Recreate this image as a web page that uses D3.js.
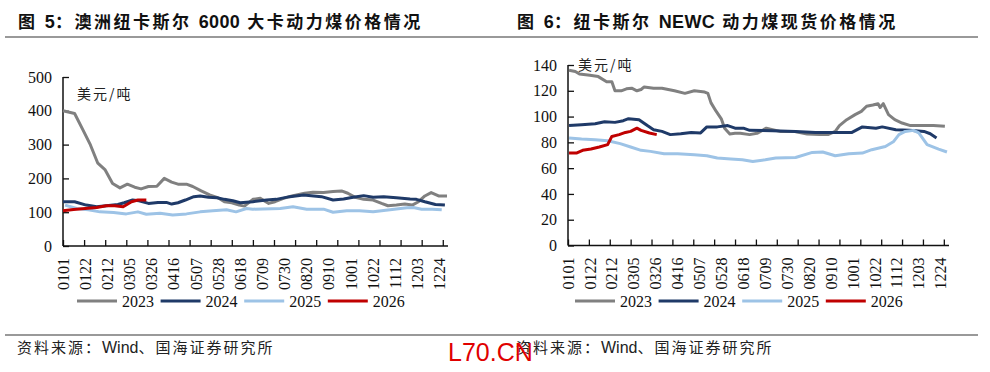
<!DOCTYPE html>
<html>
<head>
<meta charset="utf-8">
<script src="https://cdn.jsdelivr.net/npm/d3@7"></script>
<style>
  body { margin: 0; background: #fff; }
  svg { display: block; }
  .tick-label { font-family: "Liberation Serif", "Times New Roman", serif; font-size: 16px; fill: #111; }
  .title { font-family: "Liberation Sans", "Noto Sans CJK SC", sans-serif; font-size: 17px; font-weight: bold; letter-spacing: 2.5px; fill: #111; }
  .title .latin { font-size: 18px; letter-spacing: 0.3px; }
  .unit { font-family: "Noto Sans CJK SC", sans-serif; font-size: 14px; letter-spacing: 2px; fill: #222; }
  .source { font-family: "Liberation Sans", "Noto Sans CJK SC", sans-serif; font-size: 15px; letter-spacing: 2px; fill: #222; }
  .source .latin { font-size: 16px; letter-spacing: 0; }
</style>
</head>
<body>
<svg id="chart" width="990" height="372"></svg>
<script>
// ---- data ----
const tickLabels = ["0101","0122","0212","0305","0326","0416","0507","0528","0618","0709","0730","0820","0910","1001","1022","1112","1203","1224"];
const years = ["2023", "2024", "2025", "2026"];
const colors = ["#808080", "#1f3a68", "#9dc3e6", "#c00000"];

// fig 5: Newcastle 6000 kcal, weekly (USD/t)
const left2023 = [["0101",400],["0112",392],["0120",343],["0127",299],["0203",245],["0210",225],["0217",185],["0224",172],["0303",183],["0310",174],["0316",169],["0323",176],["0331",177],["0407",200],["0414",189],["0420",183],["0428",183],["0504",176],["0512",163],["0520",151],["0527",144],["0603",131],["0610",128],["0617",121],["0622",118],["0630",138],["0707",141],["0715",126],["0721",131],["0729",141],["0806",148],["0818",156],["0826",159],["0905",158],["0914",161],["0922",163],["0928",156],["1005",144],["1013",138],["1022",136],["1030",126],["1105",119],["1113",121],["1121",124],["1128",121],["1204",131],["1210",148],["1216",158],["1223",148],["1231",148]];
const left2024 = [["0101",131],["0112",131],["0123",121],["0202",116],["0211",119],["0222",123],["0228",128],["0308",136],["0314",134],["0323",126],["0401",129],["0409",129],["0414",124],["0420",128],["0427",136],["0505",146],["0511",148],["0519",144],["0527",143],["0603",138],["0611",134],["0618",128],["0630",131],["0713",136],["0722",138],["0804",146],["0817",151],["0903",146],["0914",136],["0924",139],["1003",144],["1013",149],["1022",144],["1101",146],["1113",143],["1126",139],["1202",138],["1210",131],["1220",123],["1229",121]];
const left2025 = [["0103",121],["0114",111],["0125",107],["0205",101],["0218",99],["0302",95],["0313",101],["0321",94],["0403",97],["0415",92],["0428",95],["0511",101],["0523",104],["0605",107],["0614",101],["0624",111],["0630",109],["0726",111],["0807",116],["0820",109],["0905",109],["0914",100],["0927",104],["1009",104],["1022",101],["1107",107],["1123",113],["1129",114],["1207",109],["1217",109],["1226",107]];
const left2026 = [["0101",104],["0111",108],["0122",111],["0202",114],["0211",119],["0219",119],["0227",116],["0307",131],["0313",136],["0321",136]];

// fig 6: NEWC spot, daily (USD/t)
const right2023 = [["0102",136],["0108",135],["0112",133],["0122",132],["0130",131],["0207",127],["0212",127],["0215",120],["0221",120],["0226",121.5],["0303",122],["0308",120],["0312",121],["0315",123],["0324",122],["0401",122],["0413",120],["0423",118],["0502",120],["0512",119],["0515",118],["0518",110.6],["0523",104],["0528",98],["0531",91],["0605",86.5],["0610",87],["0615",87],["0624",86],["0701",87],["0710",91],["0723",88.5],["0805",88.5],["0818",86.5],["0830",86],["0907",86],["0914",88.5],["0918",93],["0925",97.6],["1003",101.5],["1009",104],["1014",108],["1020",109],["1025",110],["1027",107],["1030",110],["1104",101.5],["1110",97.6],["1117",95],["1125",93],["1207",93],["1217",93],["1228",92.4]];
const right2024 = [["0102",93],["0114",93.7],["0127",94.5],["0205",96],["0215",95.5],["0223",96.8],["0228",98.4],["0310",97.6],["0318",93],["0324",89.8],["0401",88.5],["0409",86],["0419",86.7],["0429",87.7],["0508",87.3],["0514",92],["0524",92],["0603",93],["0610",91],["0618",91],["0624",89.3],["0716",89],["0807",88.5],["0826",87.7],["0911",87.7],["0930",87.7],["1010",92],["1023",91],["1029",92],["1111",89.8],["1124",89.3],["1208",88.5],["1214",86.7],["1220",83.4]];
const right2025 = [["0102",83.4],["0114",82.6],["0127",82],["0208",81.3],["0220",79],["0302",76.4],["0312",73.8],["0321",73],["0403",71.2],["0416",71.2],["0502",70.4],["0514",69.6],["0524",67.8],["0606",67],["0617",66.5],["0627",65.2],["0709",66.5],["0719",67.8],["0807",68.3],["0823",72.2],["0902",72.5],["0914",69.6],["0927",71.2],["1010",71.7],["1019",74.3],["1101",76.8],["1109",80.7],["1114",86],["1120",88.5],["1128",89.3],["1203",87.3],["1211",78.2],["1222",74.8],["1230",72.5]];
const right2026 = [["0102",71.7],["0109",71.7],["0115",73.8],["0123",74.8],["0131",76.4],["0208",78.2],["0212",84.6],["0219",86],["0225",87.7],["0302",88.5],["0308",91],["0312",89.3],["0320",87.3],["0327",86]];

const leftTicksY = [0, 100, 200, 300, 400, 500];
const rightTicksY = [0, 20, 40, 60, 80, 100, 120, 140];

// ---- drawing ----
const svg = d3.select("#chart");
const parse = md => d3.timeParse("%Y%m%d")("2023" + md);

// split text so latin runs get their own spacing
function mixedText(sel, str) {
    str.split(/([A-Za-z0-9]+)/).filter(s => s !== "").forEach(part => {
        sel.append("tspan")
            .attr("class", /^[A-Za-z0-9]+$/.test(part) ? "latin" : null)
            .text(part);
    });
}

function drawPanel(cfg) {
    const g = svg.append("g");

    const x = d3.scaleTime()
        .domain([parse("0101"), parse("1231")])
        .range([cfg.x0, cfg.x1]);
    const y = d3.scaleLinear()
        .domain([0, cfg.yMax])
        .range([cfg.yBottom, cfg.yTop]);

    // y axis, ticks inward
    const yAxis = g.append("g")
        .attr("transform", `translate(${cfg.x0},0)`)
        .call(d3.axisRight(y).tickValues(cfg.yTicks).tickSize(6).tickFormat(""));
    yAxis.select(".domain").remove();
    yAxis.selectAll("line").attr("stroke", "#111").attr("stroke-width", 1.3);

    g.selectAll(".ylab")
        .data(cfg.yTicks)
        .join("text")
        .attr("class", "tick-label")
        .attr("x", cfg.x0 - 11)
        .attr("y", d => y(d))
        .attr("dy", "0.35em")
        .attr("text-anchor", "end")
        .text(d => d);

    // x axis: tick marks every 20 days, labels every 21 days
    const tickDates = d3.range(0, 361, 20).map(d => d3.timeDay.offset(parse("0101"), d));
    const xAxis = g.append("g")
        .attr("transform", `translate(0,${cfg.yBottom})`)
        .call(d3.axisTop(x).tickValues(tickDates).tickSize(6).tickFormat(""));
    xAxis.select(".domain").remove();
    xAxis.selectAll("line").attr("stroke", "#111").attr("stroke-width", 1.3);

    g.selectAll(".xlab")
        .data(tickLabels)
        .join("text")
        .attr("class", "tick-label")
        .attr("text-anchor", "end")
        .attr("dy", "0.35em")
        .attr("transform", d => `translate(${x(parse(d))},${cfg.yBottom + 12}) rotate(-90)`)
        .text(d => d);

    // axis lines
    g.append("line")
        .attr("x1", cfg.x0).attr("x2", cfg.x0)
        .attr("y1", cfg.yTop).attr("y2", cfg.yBottom)
        .attr("stroke", "#111").attr("stroke-width", 1.5);
    g.append("line")
        .attr("x1", cfg.x0).attr("x2", cfg.x1 + 1)
        .attr("y1", cfg.yBottom).attr("y2", cfg.yBottom)
        .attr("stroke", "#111").attr("stroke-width", 1.5);

    // series
    const line = d3.line()
        .x(d => x(parse(d[0])))
        .y(d => y(d[1]));
    cfg.series.forEach((s, i) => {
        g.append("path")
            .datum(s)
            .attr("fill", "none")
            .attr("stroke", colors[i])
            .attr("stroke-width", 3)
            .attr("stroke-linejoin", "round")
            .attr("d", line);
    });

    // unit
    g.append("text")
        .attr("class", "unit")
        .attr("x", cfg.unitX)
        .attr("y", cfg.unitY)
        .text("美元/吨");

    // legend
    const leg = g.selectAll(".leg")
        .data(years)
        .join("g")
        .attr("transform", (d, i) => `translate(${cfg.legX + i * 83.6},${cfg.legY})`);
    leg.append("line")
        .attr("x1", 0).attr("x2", 40)
        .attr("stroke", (d, i) => colors[i])
        .attr("stroke-width", 3);
    leg.append("text")
        .attr("class", "tick-label")
        .attr("x", 45)
        .attr("dy", "0.35em")
        .text(d => d);

    // title and source
    g.append("text")
        .attr("class", "title")
        .attr("x", cfg.titleX)
        .attr("y", 28)
        .call(mixedText, cfg.title);
    g.append("text")
        .attr("class", "source")
        .attr("x", cfg.titleX - 1)
        .attr("y", 353)
        .call(mixedText, "资料来源：Wind、国海证券研究所");
}

drawPanel({
    x0: 63, x1: 447, yTop: 77, yBottom: 246, yMax: 500, yTicks: leftTicksY,
    series: [left2023, left2024, left2025, left2026],
    unitX: 77, unitY: 99, legX: 77, legY: 301,
    titleX: 18, title: "图 5：澳洲纽卡斯尔 6000 大卡动力煤价格情况"
});

drawPanel({
    x0: 568, x1: 948, yTop: 65, yBottom: 245.5, yMax: 140, yTicks: rightTicksY,
    series: [right2023, right2024, right2025, right2026],
    unitX: 578, unitY: 70, legX: 575, legY: 301,
    titleX: 517, title: "图 6：纽卡斯尔 NEWC 动力煤现货价格情况"
});

// separator rules
svg.append("line").attr("x1", 5).attr("x2", 978).attr("y1", 37).attr("y2", 37)
    .attr("stroke", "#777").attr("stroke-width", 1.5);
svg.append("line").attr("x1", 5).attr("x2", 978).attr("y1", 335).attr("y2", 335)
    .attr("stroke", "#777").attr("stroke-width", 1.5);

// watermark
svg.append("text")
    .attr("x", 448).attr("y", 361)
    .attr("font-family", "Liberation Sans, Arial, sans-serif")
    .attr("font-size", 25)
    .attr("fill", "#e00000")
    .text("L70.CN");
</script>
</body>
</html>
